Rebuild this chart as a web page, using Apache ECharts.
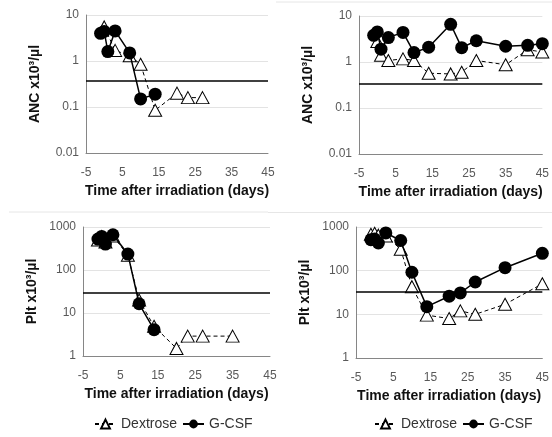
<!DOCTYPE html>
<html>
<head>
<meta charset="utf-8">
<script src="https://cdn.jsdelivr.net/npm/echarts@6/dist/echarts.min.js"></script>
<style>
    html, body { margin: 0; padding: 0; background: #fff; }
    #chart { width: 552px; height: 437px; }
</style>
</head>
<body>
<div id="chart"></div>
<script>
// ANC, left panel
let ancDexA = [[0, 5.5], [3, 1.7], [7, 1.3], [10, 0.85], [14, 0.085], [20, 0.2], [23, 0.16], [27, 0.16]];
let ancGcsfA = [[-1, 4.0], [0, 4.4], [1, 1.6], [3, 4.5], [7, 1.5], [10, 0.15], [14, 0.19]];
// ANC, right panel
let ancDexB = [[0, 2.8], [1, 1.4], [3, 1.08], [7, 1.17], [10, 1.08], [14, 0.57], [20, 0.55], [23, 0.6], [27, 1.08], [35, 0.87], [41, 1.85], [45, 1.65]];
let ancGcsfB = [[-1, 3.8], [0, 4.5], [1, 1.9], [3, 3.4], [7, 4.4], [10, 1.6], [14, 2.1], [20, 6.6], [23, 2.05], [27, 2.9], [35, 2.2], [41, 2.3], [45, 2.5]];
// Plt, left panel
let pltDexA = [[-1, 500], [0, 600], [1, 450], [3, 620], [7, 220], [10, 20], [14, 4.9], [20, 1.5], [23, 2.9], [27, 2.9], [35, 2.9]];
let pltGcsfA = [[-1, 525], [0, 605], [1, 400], [3, 660], [7, 235], [10, 16.4], [14, 4.1]];
// Plt, right panel
let pltDexB = [[-1, 680], [0, 720], [1, 650], [3, 620], [7, 310], [10, 43], [14, 9.6], [20, 8], [23, 12], [27, 10], [35, 17], [45, 50]];
let pltGcsfB = [[-1, 510], [0, 530], [1, 430], [3, 730], [7, 490], [10, 92], [14, 15], [20, 26], [23, 31], [27, 55], [35, 117], [45, 250]];

let refLines = [0.37, 0.34, 30, 33];
let xTicks = [-5, 5, 15, 25, 35, 45];
let ancRange = [0.01, 10];
let pltRange = [1, 1000];

let font = 'Liberation Sans, Arial, sans-serif';
let grids = [
    { left: 86, top: 15, width: 182, height: 138 },
    { left: 359, top: 16, width: 185, height: 138 },
    { left: 83, top: 227, width: 187, height: 129 },
    { left: 356, top: 227, width: 187, height: 131 }
];

function xAxis(i) {
    return {
        type: 'value', gridIndex: i, min: -5, max: 45,
        name: 'Time after irradiation (days)', nameLocation: 'middle', nameGap: 31,
        nameTextStyle: { fontFamily: font, fontSize: 14, fontWeight: 'bold', color: '#111' },
        axisLine: { onZero: false, lineStyle: { color: '#868686', width: 1 } },
        axisTick: { show: false },
        splitLine: { show: false },
        axisLabel: { customValues: xTicks, margin: 14, fontFamily: font, fontSize: 12, color: '#595959' }
    };
}

function yAxis(i, name, range) {
    return {
        type: 'log', logBase: 10, gridIndex: i, min: range[0], max: range[1],
        name: name, nameLocation: 'middle', nameGap: 44,
        nameTextStyle: { fontFamily: font, fontSize: 14, fontWeight: 'bold', color: '#111' },
        axisLine: { show: true, onZero: false, lineStyle: { color: '#868686', width: 1 } },
        axisTick: { show: false },
        splitLine: { show: true, lineStyle: { color: '#e3e3e3', width: 1 } },
        axisLabel: {
            margin: 7, fontFamily: font, fontSize: 12, color: '#595959',
            formatter: function (v) { return String(+v.toPrecision(3)); }
        }
    };
}

function dex(data, i) {
    return {
        name: 'Dextrose', type: 'line', xAxisIndex: i, yAxisIndex: i, data: data,
        symbol: 'triangle', symbolSize: [13, 12],
        lineStyle: { color: '#000', width: 1, type: [4, 3] },
        itemStyle: { color: '#fff', borderColor: '#000', borderWidth: 1 },
        z: 2
    };
}

function gcsf(data, i) {
    return {
        name: 'G-CSF', type: 'line', xAxisIndex: i, yAxisIndex: i, data: data,
        symbol: 'circle', symbolSize: 13,
        lineStyle: { color: '#000', width: 1.5 },
        itemStyle: { color: '#000' },
        z: 3,
        markLine: {
            silent: true, symbol: 'none', label: { show: false },
            lineStyle: { color: '#000', width: 1.5, type: 'solid' },
            data: [{ yAxis: refLines[i] }]
        }
    };
}

function legend(left) {
    return {
        data: ['Dextrose', 'G-CSF'], left: left, top: 412, width: 190,
        itemWidth: 21, itemHeight: 11, itemGap: 5,
        textStyle: { fontFamily: font, fontSize: 14, color: '#333' }
    };
}

let MyChart = echarts.init(document.getElementById('chart'));
let option = {
    animation: false,
    backgroundColor: '#fff',
    grid: grids,
    xAxis: [xAxis(0), xAxis(1), xAxis(2), xAxis(3)],
    yAxis: [
        yAxis(0, 'ANC x10³/µl', ancRange),
        yAxis(1, 'ANC x10³/µl', ancRange),
        yAxis(2, 'Plt x10³/µl', pltRange),
        yAxis(3, 'Plt x10³/µl', pltRange)
    ],
    legend: [legend(89), legend(369)],
    series: [
        dex(ancDexA, 0), gcsf(ancGcsfA, 0),
        dex(ancDexB, 1), gcsf(ancGcsfB, 1),
        dex(pltDexA, 2), gcsf(pltGcsfA, 2),
        dex(pltDexB, 3), gcsf(pltGcsfB, 3)
    ],
    graphic: [
        { type: 'line', shape: { x1: 9, y1: 212, x2: 268, y2: 212 }, style: { stroke: '#e6e6e6', lineWidth: 1 } },
        { type: 'line', shape: { x1: 268, y1: 212.5, x2: 552, y2: 212.5 }, style: { stroke: '#e6e6e6', lineWidth: 1 } },
        { type: 'line', shape: { x1: 276, y1: 2, x2: 552, y2: 2 }, style: { stroke: '#e6e6e6', lineWidth: 1 } }
    ]
};
MyChart.setOption(option);
</script>
</body>
</html>
